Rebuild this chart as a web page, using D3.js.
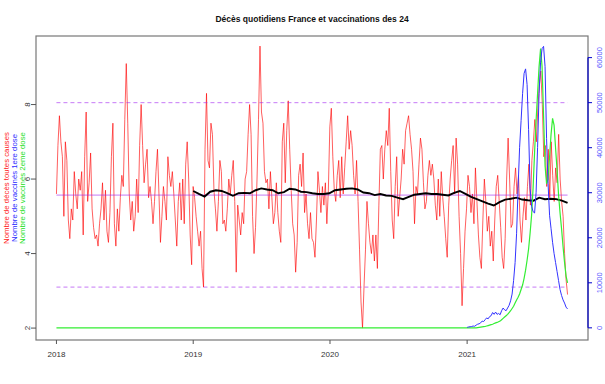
<!DOCTYPE html>
<html>
<head>
<meta charset="utf-8">
<script src="https://cdn.jsdelivr.net/npm/d3@7"></script>
<style>
  body { margin: 0; background: #fff; }
  text { font-family: "Liberation Sans", Arial, sans-serif; }
</style>
</head>
<body>
<div id="chart"></div>
<script>
const width = 605;
const height = 384;

/* ----------------------- data ----------------------- */
const startDate = new Date(2018, 0, 1);
const endDate = new Date(2021, 8, 26);
const avgStart = new Date(2019, 0, 1);
const vaxStart = new Date(2021, 0, 1);
const vaxStepDays = 4;

// daily deaths, read every ~4 days off the picture
const deces = [
  5.6, 6.9, 7.7, 7.0, 6.6, 5.0, 7.0, 6.5, 4.9, 4.4, 5.2, 4.9, 6.2, 5.6, 5.2, 6.0, 5.7, 6.2, 4.5, 6.6,
  7.8, 5.4, 5.9, 6.7, 5.2, 4.7, 4.4, 4.5, 4.2, 4.8, 5.2, 5.9, 4.9, 5.7, 4.6, 4.3, 5.1, 6.6, 7.5, 4.8,
  4.2, 5.2, 4.6, 5.5, 6.1, 5.8, 7.6, 9.1, 7.5, 5.6, 4.9, 5.4, 4.6, 5.0, 6.0, 5.1, 6.9, 8.0, 6.9, 5.9,
  6.4, 6.8, 5.5,
  5.8, 5.4, 4.8, 5.4, 6.2, 6.8, 5.6, 4.3, 5.0, 5.8, 5.4, 4.9, 6.6, 6.1, 5.8, 6.2, 5.6, 4.9, 4.2, 5.4,
  5.9, 4.9, 6.0, 4.8, 6.4, 7.0, 6.0, 4.5, 3.7, 5.8, 5.5, 5.0, 4.6, 4.2, 4.6, 3.6, 3.1, 6.8, 8.3, 6.5,
  6.3, 7.5, 7.2, 5.7, 5.2, 4.6, 5.4, 6.5, 6.2, 4.8, 4.9, 4.6, 5.2, 6.0, 5.6, 6.1, 6.5, 5.4, 3.5, 5.3,
  4.9, 4.5, 5.1, 4.8,
  6.0, 6.2, 7.2, 8.0, 7.2, 5.0, 4.0, 4.7, 6.0, 7.6, 9.57, 7.8, 7.5, 6.2, 5.9, 6.0, 5.2, 6.2, 5.5, 4.8,
  5.1, 5.9, 5.1, 4.6, 4.3, 7.0, 7.5, 5.9, 7.3, 8.1, 6.8, 5.7, 4.8, 4.5, 3.5, 4.3, 6.1, 6.4, 5.8, 6.7,
  5.1, 5.6, 4.8, 4.4, 5.1, 4.4, 4.3, 3.9, 4.9, 6.2, 5.7, 5.1, 5.8, 5.3, 5.9, 4.8, 5.7, 7.4, 7.9, 6.6,
  5.7, 5.4, 6.1, 6.5,
  5.5, 6.6, 5.6, 6.3, 7.0, 7.7, 6.8, 7.3, 6.9, 6.1, 5.6, 6.5, 5.4, 4.1, 2.7, 2.0, 3.1, 4.1, 5.4, 4.8,
  4.3, 4.0, 4.5, 3.8, 4.5, 3.6, 5.3, 6.8, 6.9, 6.0, 6.8, 7.3, 6.9, 7.9, 6.2, 4.9, 4.4, 5.8, 6.6, 5.0,
  5.5, 6.0, 6.8, 6.4, 7.3, 7.5, 7.7, 7.2, 6.8, 6.2, 4.8, 5.8, 5.6, 6.4, 7.1, 6.8, 5.9, 5.2, 5.4, 6.1,
  6.5, 6.1, 6.4, 6.0,
  5.3, 4.9, 6.0, 5.0, 6.2, 5.5, 5.0, 4.4, 3.9, 5.3, 6.0, 6.5, 6.9, 5.6, 7.1, 6.4, 5.0, 4.0, 2.6, 3.6,
  4.6, 5.2, 6.1, 5.8, 5.1, 5.6, 4.8, 6.3, 5.4, 4.5, 3.9, 3.6, 4.9, 6.0, 5.4, 4.6, 5.0, 4.2, 4.6, 3.8,
  4.9, 5.8, 6.1, 5.4, 4.7, 3.9, 3.6, 4.4, 6.0, 7.1, 6.0, 4.7, 4.8, 5.8, 6.3, 5.6, 6.1, 4.9, 4.3, 5.0,
  5.5, 4.9, 5.8, 6.4,
  5.3, 6.5, 7.0, 7.6, 7.0, 7.9, 8.5, 8.9, 8.0, 6.6, 6.9, 5.8, 6.8, 5.5, 7.0, 6.1, 5.4, 6.3, 5.9, 7.2,
  6.0, 5.4, 5.0, 4.0, 3.3, 2.9
];

// moving average (black), twice a month from 2019
const moyenne = [
  5.68, 5.60, 5.53, 5.66, 5.70, 5.68, 5.62, 5.55, 5.62, 5.63, 5.62, 5.70, 5.75, 5.72, 5.70, 5.62, 5.65,
  5.74, 5.72, 5.66, 5.65, 5.62, 5.60, 5.60, 5.62, 5.70, 5.72, 5.74, 5.75, 5.72, 5.64, 5.62, 5.57, 5.60,
  5.56, 5.55, 5.50, 5.46, 5.52, 5.58, 5.60, 5.62, 5.60, 5.60, 5.58, 5.56, 5.63, 5.68, 5.60, 5.52, 5.46,
  5.40, 5.34, 5.29, 5.38, 5.45, 5.47, 5.50, 5.45, 5.43, 5.42, 5.50, 5.46, 5.47, 5.46, 5.42, 5.36
];

// first dose, every 4 days from 2021-01-01
const dose1 = [
  100, 200, 250, 300, 400, 350, 600, 800, 900, 1100, 1500, 1400, 1800, 2200, 2000, 2500, 2700, 3400,
  3000, 3500, 3000, 3200, 2900, 3800, 4400, 4000, 3800, 4400, 5000, 6000, 7500, 10500, 14500, 21000,
  31000, 40000, 46000, 52000, 56500, 57500, 54000, 44000, 31000, 27000, 25800, 25500, 30000, 40000,
  52000, 59000, 62000, 62500, 58000, 42000, 32000, 25000, 22000, 19000, 16500, 14500, 12500, 10500,
  8500, 7200, 6200, 5500, 4600, 4200
];

// second dose, every 4 days from 2021-01-01 (zero before)
const dose2 = [
  0, 0, 0, 0, 0, 0, 0, 50, 100, 150, 200, 250, 300, 400, 500, 600, 700, 800, 950, 1100, 1200, 1350,
  1500, 1800, 2100, 2400, 2700, 3000, 3400, 3800, 4300, 4800, 5500, 6200, 6800, 7500, 8500, 9500,
  11000, 12800, 15000, 17500, 21000, 25000, 31000, 39000, 46000, 52000, 58000, 62000, 58000, 47000,
  36000, 32000, 33000, 38000, 43000, 46500, 45000, 40000, 35000, 29500, 25500, 22000, 18000, 14500,
  11500, 10000
];

const refLines = [8.05, 5.57, 3.10];   // upper, mean, lower
const leftTicks = [2, 4, 6, 8];
const rightTicks = [0, 10000, 20000, 30000, 40000, 50000, 60000];
const yearTicks = [2018, 2019, 2020, 2021];
const legendLabels = [
  "Nombre de décès toutes causes",
  "Nombre de vaccinés 1ere dose",
  "Nombre de vaccinés 2eme dose"
];
const legendColors = ["#ff2020", "#2a2aff", "#22e022"];

/* ----------------------- layout ----------------------- */
const box = { left: 36, right: 588, top: 36, bottom: 340 };
const padX = (box.right - box.left) * 0.04 / 1.08;

const svg = d3.select("#chart")
  .append("svg")
    .attr("width", width)
    .attr("height", height);

const x = d3.scaleTime()
  .domain([startDate, endDate])
  .range([box.left + padX, box.right - padX]);

const yLeft = d3.scaleLinear()
  .domain([1.68, 9.84])
  .range([box.bottom, box.top]);

const yRight = d3.scaleLinear()
  .domain([-2700, 64800])
  .range([box.bottom, box.top]);

// dates for each series
const dayMs = 24 * 3600 * 1000;
const spanDeces = (endDate - startDate) / (deces.length - 1);
const decesData = deces.map((v, i) => ({ date: new Date(+startDate + i * spanDeces), v: v }));
const spanAvg = (endDate - avgStart) / (moyenne.length - 1);
const avgData = moyenne.map((v, i) => ({ date: new Date(+avgStart + i * spanAvg), v: v }));
const d1Data = dose1.map((v, i) => ({ date: new Date(+vaxStart + i * vaxStepDays * dayMs), v: v }));
const d2Data = [{ date: startDate, v: 0 }].concat(
  dose2.map((v, i) => ({ date: new Date(+vaxStart + i * vaxStepDays * dayMs), v: v })));

const lineLeft = d3.line().x(d => x(d.date)).y(d => yLeft(d.v));
const lineRight = d3.line().x(d => x(d.date)).y(d => yRight(d.v));

/* ----------------------- marks ----------------------- */
svg.append("path")
  .datum(decesData)
  .attr("d", lineLeft)
  .attr("fill", "none")
  .attr("stroke", "#ff0000")
  .attr("stroke-opacity", 0.7)
  .attr("stroke-width", 0.9);

svg.selectAll(".ref")
  .data(refLines)
  .join("line")
    .attr("class", "ref")
    .attr("x1", box.left + padX)
    .attr("x2", box.right - padX)
    .attr("y1", d => yLeft(d))
    .attr("y2", d => yLeft(d))
    .attr("stroke", "#a020f0")
    .attr("stroke-opacity", 0.6)
    .attr("stroke-width", 1)
    .attr("stroke-dasharray", (d, i) => i === 1 ? null : "4,3");

svg.append("path")
  .datum(avgData)
  .attr("d", lineLeft)
  .attr("fill", "none")
  .attr("stroke", "#000")
  .attr("stroke-width", 1.9);

svg.append("path")
  .datum(d2Data)
  .attr("d", lineRight)
  .attr("fill", "none")
  .attr("stroke", "#33ee33")
  .attr("stroke-width", 1.2);

svg.append("path")
  .datum(d1Data)
  .attr("d", lineRight)
  .attr("fill", "none")
  .attr("stroke", "#3333ff")
  .attr("stroke-width", 1);

/* ----------------------- axes ----------------------- */
svg.append("rect")
  .attr("x", box.left)
  .attr("y", box.top)
  .attr("width", box.right - box.left)
  .attr("height", box.bottom - box.top)
  .attr("fill", "none")
  .attr("stroke", "#777")
  .attr("stroke-width", 1.2);

// left axis
const gl = svg.append("g");
gl.selectAll("line")
  .data(leftTicks)
  .join("line")
    .attr("x1", box.left - 5).attr("x2", box.left)
    .attr("y1", d => yLeft(d)).attr("y2", d => yLeft(d))
    .attr("stroke", "#555");
gl.selectAll("text")
  .data(leftTicks)
  .join("text")
    .attr("transform", d => `translate(${box.left - 9},${yLeft(d)}) rotate(-90)`)
    .attr("text-anchor", "middle")
    .attr("dominant-baseline", "central")
    .attr("font-size", 8)
    .attr("fill", "#333")
    .text(d => d);

// right axis
const gr = svg.append("g");
gr.append("line")
  .attr("x1", box.right).attr("x2", box.right)
  .attr("y1", yRight(0)).attr("y2", yRight(60000))
  .attr("stroke", "#0000cc").attr("stroke-width", 1.2);
gr.selectAll(".tk")
  .data(rightTicks)
  .join("line")
    .attr("class", "tk")
    .attr("x1", box.right).attr("x2", box.right + 4)
    .attr("y1", d => yRight(d)).attr("y2", d => yRight(d))
    .attr("stroke", "#0000cc");
gr.selectAll("text")
  .data(rightTicks)
  .join("text")
    .attr("transform", d => `translate(${box.right + 11},${yRight(d)}) rotate(-90)`)
    .attr("text-anchor", "middle")
    .attr("dominant-baseline", "central")
    .attr("font-size", 7.5)
    .attr("fill", "#5555ff")
    .text(d => d);

// bottom axis
const gb = svg.append("g");
gb.selectAll("line")
  .data(yearTicks)
  .join("line")
    .attr("x1", d => x(new Date(d, 0, 1))).attr("x2", d => x(new Date(d, 0, 1)))
    .attr("y1", box.bottom).attr("y2", box.bottom + 4)
    .attr("stroke", "#555");
gb.selectAll("text")
  .data(yearTicks)
  .join("text")
    .attr("x", d => x(new Date(d, 0, 1)))
    .attr("y", box.bottom + 17)
    .attr("text-anchor", "middle")
    .attr("font-size", 8)
    .attr("fill", "#333")
    .text(d => d);

// legend along the left side
svg.selectAll(".leg")
  .data(legendLabels)
  .join("text")
    .attr("class", "leg")
    .attr("transform", (d, i) => `translate(${6 + i * 8},${(box.top + box.bottom) / 2}) rotate(-90)`)
    .attr("text-anchor", "middle")
    .attr("dominant-baseline", "central")
    .attr("font-size", 7.8)
    .attr("fill", (d, i) => legendColors[i])
    .text(d => d);

// title
svg.append("text")
  .attr("x", (box.left + box.right) / 2)
  .attr("y", 22)
  .attr("text-anchor", "middle")
  .attr("font-size", 8.5)
  .attr("font-weight", "bold")
  .attr("fill", "#111")
  .text("Décès quotidiens France et vaccinations des 24");
</script>
</body>
</html>
